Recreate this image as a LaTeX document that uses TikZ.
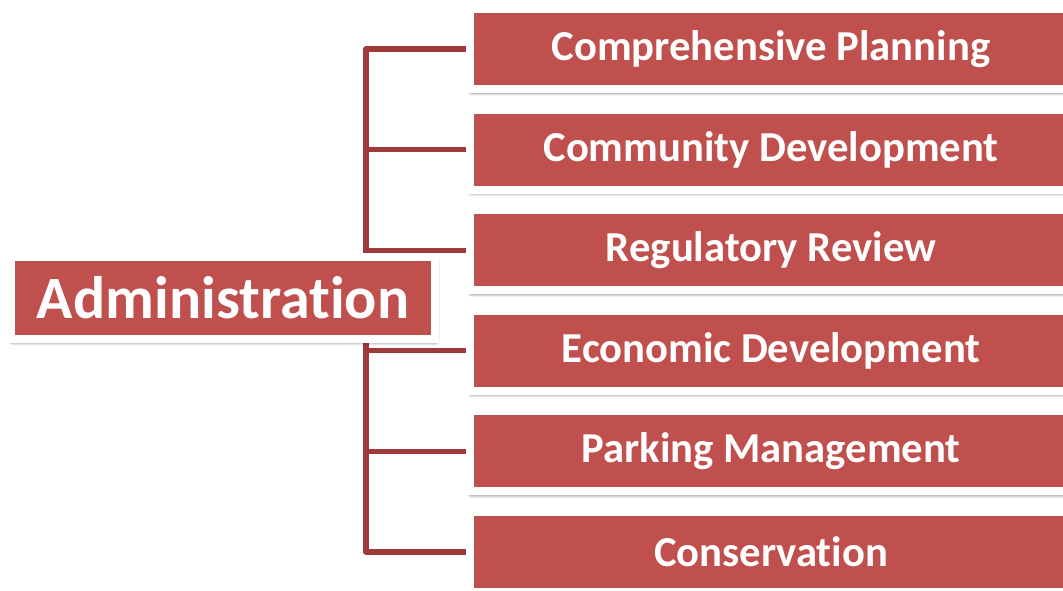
\documentclass[tikz,border=0pt]{standalone}
\usepackage{fontspec}
\setmainfont[Ligatures={NoCommon,NoContextual}]{Carlito}
\usetikzlibrary{shadows.blur}
\definecolor{boxred}{HTML}{C0504D}
\definecolor{linered}{HTML}{9E3B3A}
\tikzset{
  x=0.75pt, y=-0.75pt,
  unitbox/.style={fill=boxred, draw=white, line width=6pt, rectangle,
    text=white, font=\bfseries\fontsize{32}{38}\selectfont,
    minimum width=451.5pt, minimum height=60pt, inner sep=0pt,
    blur shadow={shadow xshift=0.8pt, shadow yshift=-2.2pt, shadow blur radius=3pt,
      shadow blur steps=8, shadow opacity=75}},
  adminbox/.style={unitbox, font=\bfseries\fontsize{45}{52}\selectfont,
    minimum width=318pt, minimum height=61pt},
  conn/.style={draw=linered, line width=4pt, line join=round}
}
\begin{document}
\begin{tikzpicture}
\useasboundingbox (0,0) rectangle (1063,591);
\coordinate (spine) at (366,0);
\path (771,49) coordinate (p1) (771,149.6) coordinate (p2) (771,250.2) coordinate (p3)
      (771,350.8) coordinate (p4) (771,451.4) coordinate (p5) (771,552) coordinate (p6);
\foreach \i in {1,...,6} { \coordinate (w\i) at ([xshift=-225.75pt]p\i); }
\draw[conn] (w1) -- (w1 -| spine) -- (w6 -| spine) -- (w6);
\foreach \i in {2,...,5} { \draw[conn] (w\i) -- (w\i -| spine); }
\node[adminbox] (admin) at (223,298) {Administration};
\node[unitbox] (b1) at (p1) {Comprehensive Planning};
\node[unitbox] (b2) at (p2) {Community Development};
\node[unitbox] (b3) at (p3) {Regulatory Review};
\node[unitbox] (b4) at (p4) {Economic Development};
\node[unitbox] (b5) at (p5) {Parking Management};
\node[unitbox] (b6) at (p6) {Conservation};
\end{tikzpicture}
\end{document}
